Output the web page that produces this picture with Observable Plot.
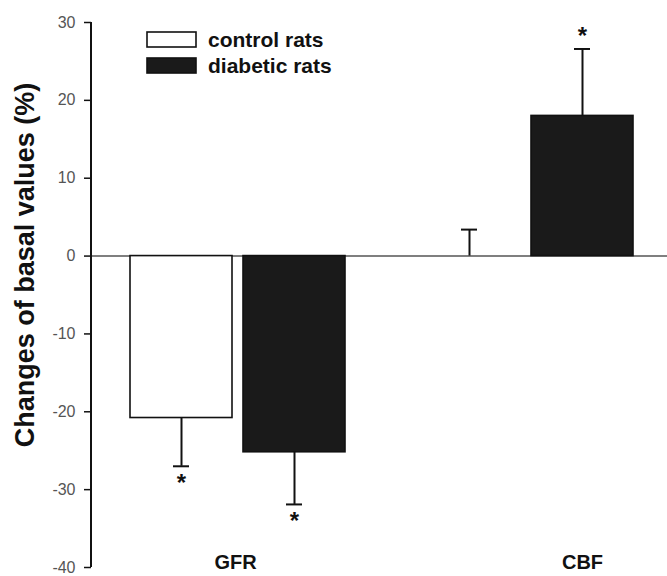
<!DOCTYPE html>
<html>
<head>
<meta charset="utf-8">
<script src="https://cdn.jsdelivr.net/npm/d3@7"></script>
<script src="https://cdn.jsdelivr.net/npm/@observablehq/plot@0.6"></script>
<style>
  html, body { margin: 0; padding: 0; background: #ffffff; }
  #chart svg { display: block; }
</style>
</head>
<body>
<div id="chart"></div>
<script>
// ---- data ----
const groups       = ["GFR", "GFR", "CBF", "CBF"];
const series       = ["control", "diabetic", "control", "diabetic"];
const values       = [-20.8, -25.2, 0.0, 18.0];
const errors       = [6.2, 6.7, 3.4, 8.6];
const significant  = [true, true, false, true];

const groupOrder   = ["GFR", "CBF"];
const seriesOrder  = ["control", "diabetic"];
const seriesLabels = ["control rats", "diabetic rats"];
const seriesFill   = ["#ffffff", "#1a1a1a"];
const yTicks       = [-40, -30, -20, -10, 0, 10, 20, 30];
const yLabel       = "Changes of basal values (%)";
// group label: GFR centred on its group, CBF under the diabetic bar (as in the reference)
const groupLabelAt = [null, "diabetic"];

// ---- build table ----
const data = groups.map((g, i) => ({
  group: g,
  series: series[i],
  value: values[i],
  tip: values[i] + (values[i] < 0 ? -errors[i] : errors[i]),
  star: significant[i]
}));
const groupLabels = groupOrder.map((g, i) => ({group: g, at: groupLabelAt[i]}));
const font = "'Liberation Sans', Arial, Helvetica, sans-serif";

const chart = Plot.plot({
  width: 667,
  height: 576,
  marginLeft: 91,
  marginRight: 0,
  marginTop: 22,
  marginBottom: 9,
  style: {fontFamily: font, background: "#ffffff", color: "#000"},
  fx: {domain: groupOrder, paddingInner: 0, paddingOuter: 0, axis: null, label: null},
  x: {domain: seriesOrder, paddingInner: 0.097, paddingOuter: 0.3226, align: 0.53, axis: null},
  y: {domain: [d3.min(yTicks), d3.max(yTicks)], axis: null},
  color: {domain: seriesOrder, range: seriesFill},
  marks: [
    Plot.ruleY([0], {stroke: "#555", strokeWidth: 1.6}),
    Plot.barY(data, {fx: "group", x: "series", y: "value", fill: "series", stroke: "#111", strokeWidth: 1.6}),
    Plot.ruleX(data, {fx: "group", x: "series", y1: "value", y2: "tip", stroke: "#111", strokeWidth: 2}),
    Plot.tickY(data, {fx: "group", x: "series", y: "tip", stroke: "#111", strokeWidth: 2, insetLeft: 43, insetRight: 43}),
    Plot.text(data.filter(d => d.star && d.value < 0), {fx: "group", x: "series", y: "tip", text: () => "*", fontSize: 24, fontWeight: "bold", fill: "#111", dy: 17}),
    Plot.text(data.filter(d => d.star && d.value >= 0), {fx: "group", x: "series", y: "tip", text: () => "*", fontSize: 24, fontWeight: "bold", fill: "#111", dy: -13}),
    Plot.axisY({ticks: yTicks, tickSize: 7, tickPadding: 9, tickFormat: d => String(d), label: null, fontSize: 16, stroke: "#111", fill: "#555", strokeWidth: 1.5}),
    Plot.text(groupLabels.filter(d => d.at === null), {fx: "group", text: "group", frameAnchor: "bottom", fontSize: 20, fontWeight: "bold", fill: "#111", dy: 1}),
    Plot.text(groupLabels.filter(d => d.at !== null), {fx: "group", x: "at", text: "group", frameAnchor: "bottom", fontSize: 20, fontWeight: "bold", fill: "#111", dy: 1}),
    Plot.text([{group: groupOrder[0], label: yLabel}], {fx: "group", text: "label", frameAnchor: "left", textAnchor: "middle", rotate: -90, dx: -66, dy: -30, fontSize: 27, fontWeight: "bold", fill: "#111"})
  ]
});

document.getElementById("chart").appendChild(chart);

// y-axis line along the left edge of the frame, from the y scale's range
const ys = chart.scale("y");
const svg = d3.select(chart);
svg.append("line")
  .attr("x1", 91).attr("x2", 91)
  .attr("y1", ys.apply(d3.max(yTicks))).attr("y2", ys.apply(d3.min(yTicks)))
  .attr("stroke", "#111").attr("stroke-width", 2);

// legend inside the plot
const lg = svg.append("g").attr("transform", "translate(147,32)");
seriesOrder.forEach((s, i) => {
  lg.append("rect")
    .attr("x", 0).attr("y", i * 26)
    .attr("width", 49).attr("height", 15)
    .attr("fill", seriesFill[i]).attr("stroke", "#111").attr("stroke-width", 1.6);
  lg.append("text")
    .attr("x", 61).attr("y", i * 26 + 7.5).attr("dy", "0.36em")
    .attr("text-anchor", "start")
    .attr("font-family", font).attr("font-size", 21).attr("font-weight", "bold")
    .attr("fill", "#111")
    .text(seriesLabels[i]);
});
</script>
</body>
</html>
